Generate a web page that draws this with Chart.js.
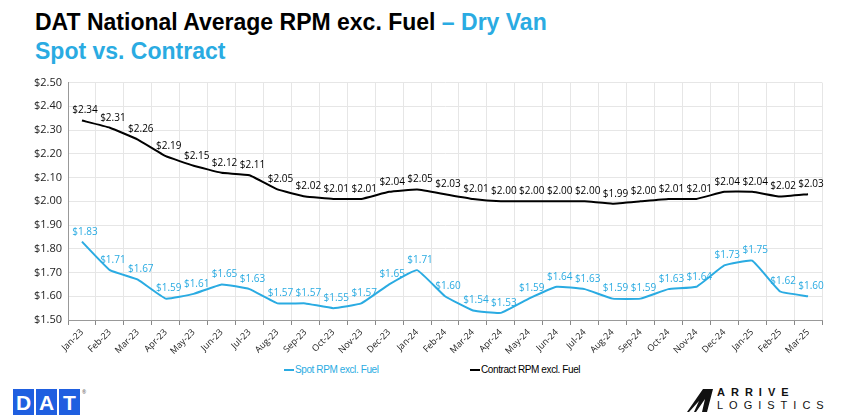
<!DOCTYPE html>
<html>
<head>
<meta charset="utf-8">
<script src="https://cdn.jsdelivr.net/npm/chart.js@4.4.1/dist/chart.umd.min.js"></script>
<style>
  body { margin: 0; background: #fff; font-family: "Open Sans", Arial, sans-serif; }
  #wrap { position: relative; width: 862px; height: 420px; overflow: hidden; }
  #title { position: absolute; left: 35px; top: 8px; font-family: "Liberation Sans", Arial, sans-serif; font-weight: bold; font-size: 23px; line-height: 29px; color: #000; }
  #title .blue { color: #2aabe2; }
  #chartBox { position: absolute; left: 0; top: 70px; width: 862px; height: 290px; }
  #legend { position: absolute; top: 364px; left: 0; width: 862px; font-family: "Liberation Sans", Arial, sans-serif; font-size: 10px; letter-spacing: -0.4px; }
  #legend span { position: absolute; white-space: nowrap; }
  #legend i { display: inline-block; width: 10px; height: 2px; vertical-align: middle; margin-right: 1px; }
  #dat { position: absolute; left: 13px; top: 389px; display: flex; gap: 2px; }
  #dat div { width: 21px; height: 26px; background: #1f5fe0; color: #fff; font-family: "Liberation Sans", Arial, sans-serif; font-weight: bold; font-size: 21px; text-align: center; line-height: 27px; }
  #dat sup { font-size: 5px; color: #555; }
  #arrive { position: absolute; left: 685px; top: 386px; font-family: "Liberation Sans", Arial, sans-serif; }
  #arrive .a1 { position: absolute; left: 32px; top: 0; font-size: 11px; letter-spacing: 6px; font-weight: bold; color: #111; }
  #arrive .a2 { position: absolute; left: 32px; top: 13px; font-size: 11px; letter-spacing: 6px; color: #111; }
  #arrive svg { position: absolute; left: 0; top: 1px; }
</style>
</head>
<body>
<div id="wrap">
  <div id="title">DAT National Average RPM exc. Fuel <span class="blue">– Dry Van</span><br><span class="blue">Spot vs. Contract</span></div>
  <div id="chartBox"><canvas id="rpmChart"></canvas></div>
  <div id="legend">
    <span style="left:284px;color:#2aabe2"><i style="background:#2aabe2"></i>Spot RPM excl. Fuel</span>
    <span style="left:470px;color:#000"><i style="background:#000"></i>Contract RPM excl. Fuel</span>
  </div>
  <div id="dat"><div>D</div><div>A</div><div>T</div><sup>®</sup></div>
  <div id="arrive">
    <svg width="30" height="26" viewBox="0 0 30 26"><path d="M2 25 L18 2 L28 2 L22 25 L17 25 L20 12 L11 25 Z" fill="#111"/><path d="M4 25 L14 14 L9 25 Z" fill="#fff"/></svg>
    <div class="a1">ARRIVE</div>
    <div class="a2">LOGISTICS</div>
  </div>
</div>
<script>
let months = ['Jan-23','Feb-23','Mar-23','Apr-23','May-23','Jun-23','Jul-23','Aug-23','Sep-23','Oct-23','Nov-23','Dec-23',
              'Jan-24','Feb-24','Mar-24','Apr-24','May-24','Jun-24','Jul-24','Aug-24','Sep-24','Oct-24','Nov-24','Dec-24',
              'Jan-25','Feb-25','Mar-25'];
let spotRpm = [1.83,1.71,1.67,1.59,1.61,1.65,1.63,1.57,1.57,1.55,1.57,1.65,
               1.71,1.60,1.54,1.53,1.59,1.64,1.63,1.59,1.59,1.63,1.64,1.73,
               1.75,1.62,1.60];
let contractRpm = [2.34,2.31,2.26,2.19,2.15,2.12,2.11,2.05,2.02,2.01,2.01,2.04,
                   2.05,2.03,2.01,2.00,2.00,2.00,2.00,1.99,2.00,2.01,2.01,2.04,
                   2.04,2.02,2.03];
let spotColor = '#2aabe2';
let contractColor = '#000000';

// draws the $ value above every point
let pointLabels = {
    id: 'pointLabels',
    afterDatasetsDraw(chart) {
        let ctx = chart.ctx;
        ctx.save();
        ctx.font = '10px "Open Sans", Arial, sans-serif';
        ctx.textAlign = 'center';
        ctx.textBaseline = 'bottom';
        chart.data.datasets.forEach((ds, i) => {
            ctx.fillStyle = ds.borderColor;
            chart.getDatasetMeta(i).data.forEach((pt, j) => {
                ctx.fillText('$' + ds.data[j].toFixed(2), pt.x + 3, pt.y - 5);
            });
        });
        ctx.restore();
    }
};

let config = {
    type: 'line',
    data: {
        labels: months,
        datasets: [{
            label: 'Spot RPM excl. Fuel',
            data: spotRpm,
            borderColor: spotColor,
            borderWidth: 2,
            pointRadius: 0,
            tension: 0.1
        }, {
            label: 'Contract RPM excl. Fuel',
            data: contractRpm,
            borderColor: contractColor,
            borderWidth: 2,
            pointRadius: 0,
            tension: 0.1
        }]
    },
    options: {
        responsive: true,
        maintainAspectRatio: false,
        animation: false,
        layout: { padding: { left: 8, right: 40, top: 12, bottom: 0 } },
        plugins: { legend: { display: false }, tooltip: { enabled: false } },
        scales: {
            x: {
                offset: true,
                grid: { offset: true, color: '#e6e6e6', tickLength: 5, tickColor: '#888' },
                border: { color: '#999', width: 1 },
                afterFit: axis => { axis.height = 40; },
                ticks: { maxRotation: 45, minRotation: 45, color: '#222', font: { size: 9, family: '"Open Sans", Arial, sans-serif' }, padding: 2 }
            },
            y: {
                min: 1.5,
                max: 2.5,
                grid: { color: '#e6e6e6', drawTicks: false },
                border: { color: '#999', width: 1 },
                afterFit: axis => { axis.width = 60; },
                ticks: {
                    stepSize: 0.1,
                    padding: 6,
                    color: '#222',
                    font: { size: 11, family: '"Open Sans", Arial, sans-serif' },
                    callback: v => '$' + v.toFixed(2)
                }
            }
        }
    },
    plugins: [pointLabels]
};

let rpmChart = new Chart(document.getElementById('rpmChart'), config);
</script>
</body>
</html>
